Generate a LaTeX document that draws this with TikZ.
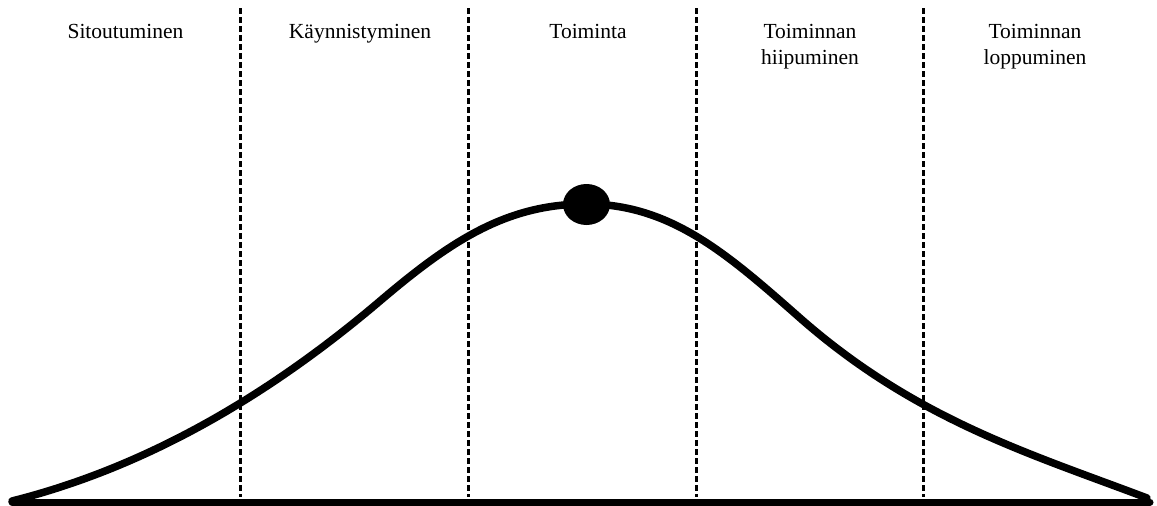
\documentclass[tikz,border=0pt]{standalone}
\usepackage{fontspec}
\setmainfont{Liberation Serif}
\usetikzlibrary{shapes.geometric}
\begin{document}
\begin{tikzpicture}[x=1pt,y=-1pt,
  lbl/.style={font=\fontsize{21.5}{26.5}\selectfont, align=center, anchor=north, inner sep=0pt},
  divider/.style={line width=3pt, dash pattern=on 6pt off 3pt},
  curve/.style={line width=7.5pt, line cap=round, line join=round},
  base/.style={line width=7pt, line cap=round},
  peak/.style={ellipse, fill=black, minimum width=47pt, minimum height=41pt, inner sep=0pt}]
\useasboundingbox (0,0) rectangle (1157,506);
% dividers
\foreach \n/\xx in {1/240,2/468,3/696,4/923}{
  \coordinate (t\n) at (\xx,8);
  \coordinate (b\n) at (\xx,497);
  \draw[divider] (t\n) -- (b\n);
}
% labels
\node[lbl] (l1) at (125.5,24) {Sitoutuminen};
\node[lbl] (l2) at (360,24) {Käynnistyminen};
\node[lbl] (l3) at (588,24) {Toiminta};
\node[lbl] (l4) at (810,24) {Toiminnan\\hiipuminen};
\node[lbl] (l5) at (1035,24) {Toiminnan\\loppuminen};
% baseline
\coordinate (bl) at (12,502);
\coordinate (br) at (1150,502);
\draw[base] (bl) -- (br);
% curve
\coordinate (c0) at (12,501);
\coordinate (c1) at (380,301);
\coordinate (c2) at (586,204);
\coordinate (c3) at (800,318);
\coordinate (c4) at (1147,498);
\draw[curve] (c0) .. controls (135,470) and (257,405.5) .. (c1)
  .. controls (450,241.5) and (506,204) .. (c2)
  .. controls (671,204) and (728,254.6) .. (c3)
  .. controls (916,420) and (1031,454) .. (c4);
% peak dot
\node[peak] (pk) at (586.5,204.5) {};
\end{tikzpicture}
\end{document}
